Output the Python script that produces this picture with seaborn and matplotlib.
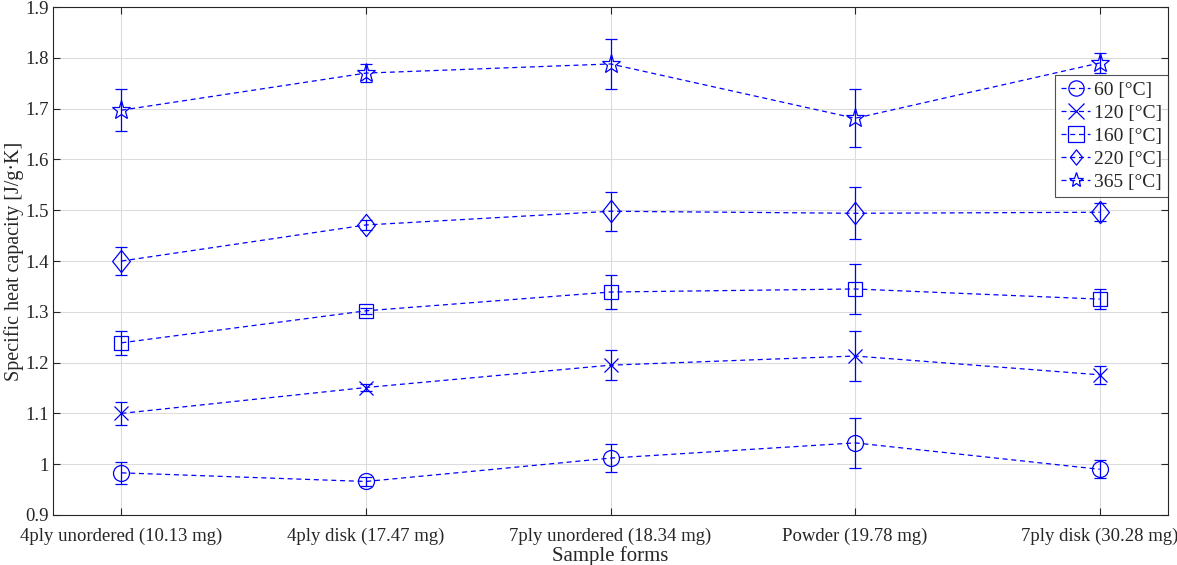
import pandas as pd
import seaborn as sns
import matplotlib.pyplot as plt
from matplotlib.path import Path

forms = ['4ply unordered (10.13 mg)', '4ply disk (17.47 mg)', '7ply unordered (18.34 mg)',
         'Powder (19.78 mg)', '7ply disk (30.28 mg)']
temps = ['60 [°C]', '120 [°C]', '160 [°C]', '220 [°C]', '365 [°C]']

cp_60 = [0.983, 0.966, 1.012, 1.042, 0.990]
cp_120 = [1.100, 1.151, 1.195, 1.213, 1.176]
cp_160 = [1.239, 1.302, 1.339, 1.345, 1.325]
cp_220 = [1.400, 1.471, 1.498, 1.494, 1.496]
cp_365 = [1.697, 1.770, 1.788, 1.681, 1.790]

err_60 = [0.022, 0.008, 0.027, 0.049, 0.018]
err_120 = [0.022, 0.006, 0.030, 0.050, 0.018]
err_160 = [0.024, 0.006, 0.034, 0.050, 0.020]
err_220 = [0.028, 0.010, 0.038, 0.051, 0.018]
err_365 = [0.041, 0.018, 0.050, 0.057, 0.020]

cps = [cp_60, cp_120, cp_160, cp_220, cp_365]
errs = [err_60, err_120, err_160, err_220, err_365]

rows = []
for t, cp, er in zip(temps, cps, errs):
    for i, (v, e) in enumerate(zip(cp, er)):
        rows.append({'pos': i + 1, 'form': forms[i], 'temp': t, 'cp': v, 'err': e})
df = pd.DataFrame(rows)

sns.set_theme(style="whitegrid")
plt.rcParams['font.family'] = ['Liberation Serif', 'DejaVu Serif']

fig = plt.figure(figsize=(11.77, 5.65), dpi=100)
ax = fig.add_axes([0.045, 0.0885, 0.9475, 0.899])

blue = '#0000ff'
# MATLAB style diamond, a bit taller than wide
diamond = Path([(0, 1), (0.8, 0), (0, -1), (-0.8, 0), (0, 1)],
               [Path.MOVETO, Path.LINETO, Path.LINETO, Path.LINETO, Path.CLOSEPOLY])
mk = {'60 [°C]': 'o', '120 [°C]': 'x', '160 [°C]': 's', '220 [°C]': diamond, '365 [°C]': '*'}
msz = {'60 [°C]': 11.5, '120 [°C]': 10, '160 [°C]': 10, '220 [°C]': 16, '365 [°C]': 14}

handles = []
for t in temps:
    sub = df[df['temp'] == t]
    ax.errorbar(sub['pos'], sub['cp'], yerr=sub['err'], fmt='none', ecolor=blue,
                elinewidth=0.9, capsize=4, capthick=0.9, zorder=3)
    sns.lineplot(data=sub, x='pos', y='cp', color=blue, linewidth=0.9, ax=ax,
                 sort=False, marker=mk[t], markersize=msz[t], markerfacecolor='none',
                 markeredgecolor=blue, markeredgewidth=0.9, linestyle=(0, (4, 3)),
                 label=t, zorder=4, legend=False)
    handles.append(ax.get_lines()[-1])

ax.set_xlim(0.72, 5.28)
ax.set_ylim(0.9, 1.9)
ax.set_xticks(range(1, 6))
ax.set_xticklabels(forms)
ax.set_yticks([0.9, 1.0, 1.1, 1.2, 1.3, 1.4, 1.5, 1.6, 1.7, 1.8, 1.9])
ax.set_yticklabels(['0.9', '1', '1.1', '1.2', '1.3', '1.4', '1.5', '1.6', '1.7', '1.8', '1.9'])
ax.set_xlabel('Sample forms', fontsize=15, labelpad=1)
ax.set_ylabel('Specific heat capacity [J/g·K]', fontsize=14.5, labelpad=1)

ax.set_facecolor('white')
ax.grid(True, color='#dcdcdc', linewidth=0.8)
for s in ax.spines.values():
    s.set_color('#262626')
    s.set_linewidth(0.8)
ax.tick_params(axis='both', direction='in', length=5, width=0.8, color='#262626',
               labelsize=13.5, labelcolor='#262626', top=True, right=True, bottom=True,
               left=True)
ax.tick_params(axis='x', pad=9)
ax.tick_params(axis='y', pad=3)

leg = ax.legend(handles=handles, labels=temps, loc='upper right',
                bbox_to_anchor=(1.0, 0.866), fontsize=14, frameon=True, fancybox=False,
                handlelength=1.5, handletextpad=0.2, borderpad=0.3, labelspacing=0.28,
                borderaxespad=0)
leg.get_frame().set_edgecolor('#262626')
leg.get_frame().set_linewidth(0.8)
for h in leg.legend_handles:
    h.set_markersize(11)

fig.savefig('out.png', dpi=100)
